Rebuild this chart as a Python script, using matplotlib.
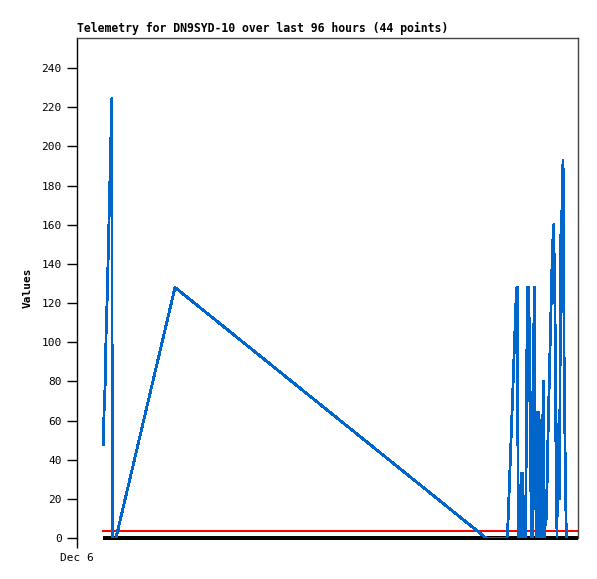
import matplotlib
matplotlib.use("Agg")
import matplotlib.pyplot as plt

# hours since Dec 6 00:00 and telemetry values
hours = [5.25, 5.39, 5.65, 5.79, 6.05, 6.25, 6.45, 6.65, 6.85, 6.95, 6.99, 7.13,
         7.78, 19.56, 81.64,
         85.83, 86.03, 86.23, 86.43, 86.63, 86.83, 87.03, 87.23, 87.43, 87.62,
         87.78, 87.92, 88.02, 88.18, 88.52, 88.62, 88.78, 88.88, 89.02, 89.14,
         89.26, 89.42, 89.54, 89.72, 89.88, 90.02, 90.14, 90.26, 90.38, 90.52,
         90.66, 90.78, 90.92, 91.02, 91.14, 91.28, 91.42, 91.54, 91.66, 91.78,
         91.90, 92.02, 92.14, 92.26, 92.38, 92.50, 92.61, 92.73, 92.89, 93.07,
         93.21, 93.33, 93.47, 93.61, 93.85, 94.01, 94.21, 94.41, 94.61, 94.81,
         95.01, 95.15, 95.27, 95.41, 95.55, 95.65, 95.81, 95.91, 96.05, 96.21,
         96.31, 96.41, 96.55, 96.71, 96.87, 97.01, 97.13, 97.21, 97.47, 97.67,
         97.80]
values = [47.5, 63.7, 80.7, 102.8, 125, 147, 169, 191.5, 213.6, 224.6, 112, 0,
          0, 128, 0,
          0, 8, 22, 36, 50, 64, 78, 93, 107, 121,
          128, 128, 32, 0, 0, 33, 8, 33, 0, 20,
          0, 15, 0, 64, 128, 96, 128, 70, 112, 24,
          68, 0, 40, 0, 96, 128, 64, 24, 64, 0,
          64, 16, 64, 0, 56, 16, 60, 0, 40, 80,
          30, 0, 20, 7, 30, 52, 74, 96, 117, 139,
          154, 160, 138, 117, 58, 36, 0, 58, 28, 36,
          20, 79, 155, 155, 181, 193, 160, 96, 33, 0,
          0]

ref_start, ref_end = 5.2, 100.0
red_level = 3.6
zero_level = 0.0

yticks = list(range(0, 241, 20))
xtick_labels = ["Dec 6"]

mono = "DejaVu Sans Mono"

fig = plt.figure(figsize=(5.97, 5.79), dpi=100)
ax = fig.add_axes([77 / 597, 1 - 538 / 579, 501 / 597, 500 / 579])

ax.plot([ref_start, ref_end], [red_level, red_level], color="#ff0000", lw=1.3,
        zorder=2, antialiased=False)
ax.plot([ref_start, ref_end], [zero_level, zero_level], color="black", lw=1.5,
        zorder=2, solid_capstyle="butt", clip_on=False, antialiased=False)
ax.plot(hours, values, color="#0066cc", lw=1.3, zorder=3, antialiased=False)

ax.set_xlim(0, 100)
ax.set_ylim(0, 255.4)

ax.set_yticks(yticks)
ax.set_yticklabels([str(t) for t in yticks], fontfamily=mono, fontsize=8)
ax.set_xticks([0])
ax.set_xticklabels(xtick_labels, fontfamily=mono, fontsize=8)
ax.tick_params(axis="y", length=7, width=1, color="black", pad=4)
ax.tick_params(axis="x", length=7, width=1, color="black", pad=4)

ax.spines["bottom"].set_visible(False)
ax.spines["left"].set_color("black")
ax.spines["top"].set_color("#444444")
ax.spines["right"].set_color("#444444")
for s in ax.spines.values():
    s.set_linewidth(1)

ax.set_title("Telemetry for DN9SYD-10 over last 96 hours (44 points)", loc="left",
             fontfamily=mono, fontsize=8.3, fontweight="bold", pad=4)
ax.set_ylabel("Values", fontfamily=mono, fontsize=8, fontweight="bold", labelpad=6)

fig.savefig("out.png", dpi=100)
